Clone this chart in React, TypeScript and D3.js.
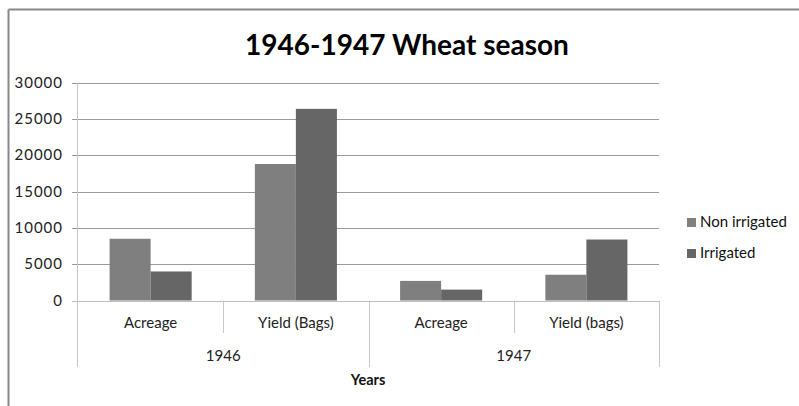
import React from "react";
import * as d3 from "d3";

const categories = ["Acreage", "Yield (Bags)", "Acreage", "Yield (bags)"];
const years = ["1946", "1947"];
const series = ["Non irrigated", "Irrigated"];
const nonIrrigated = [8500, 18800, 2700, 3550];
const irrigated = [4000, 26400, 1500, 8400];
const yTicks = [0, 5000, 10000, 15000, 20000, 25000, 30000];
const colors = ["#7f7f7f", "#666666"];

const W = 799;
const H = 406;
const FONT = "Lato, 'Open Sans', sans-serif";

export default function App() {
  const left = 78;
  const right = 659;
  const top = 82.7;
  const bottom = 300.5;
  const x = d3.scaleBand<number>().domain(d3.range(categories.length)).range([left, right]).padding(0);
  const xi = d3.scaleBand<string>().domain(series).range([0, x.bandwidth()]).paddingInner(0).paddingOuter(0.77);
  const y = d3.scaleLinear().domain([0, 30000]).range([bottom, top]);
  const values = [nonIrrigated, irrigated];
  const yearScale = d3.scaleBand<string>().domain(years).range([left, right]);

  return (
    <svg width={W} height={H} style={{ position: "absolute", left: 0, top: 0 }}>
      <rect x={0} y={0} width={W} height={H} fill="#fff" />
      <line x1={8.5} y1={9.5} x2={W} y2={9.5} stroke="#888" strokeWidth={2} />
      <line x1={8.5} y1={9.5} x2={8.5} y2={H} stroke="#888" strokeWidth={2} />
      <text x={407} y={55} textAnchor="middle" fontFamily={FONT} fontWeight="bold" fontSize={28} fill="#000">
        1946-1947 Wheat season
      </text>
      {yTicks.map((t) => (
        <g key={t}>
          {t > 0 && (
            <line x1={left - 6} x2={right} y1={Math.round(y(t)) + 0.5} y2={Math.round(y(t)) + 0.5} stroke="#9a9a9a" strokeWidth={1} />
          )}
          <text x={63} y={y(t) + 5} textAnchor="end" fontFamily={FONT} fontSize={15} letterSpacing={1} fill="#222">
            {t}
          </text>
        </g>
      ))}
      {series.map((s, si) =>
        categories.map((c, ci) => (
          <rect
            key={s + ci}
            x={(x(ci) as number) + (xi(s) as number)}
            y={y(values[si][ci])}
            width={xi.bandwidth()}
            height={bottom - y(values[si][ci])}
            fill={colors[si]}
          />
        ))
      )}
      <line x1={left - 6} x2={right} y1={Math.round(bottom) + 0.5} y2={Math.round(bottom) + 0.5} stroke="#bdbdbd" />
      <line x1={left - 0.5} x2={left - 0.5} y1={top} y2={367} stroke="#c6c6c6" />
      {[1, 3].map((i) => (
        <line key={i} x1={Math.round(x(i) as number) + 0.5} x2={Math.round(x(i) as number) + 0.5} y1={bottom} y2={333} stroke="#c6c6c6" />
      ))}
      {[2, 4].map((i) => {
        const xx = i === 4 ? right : (x(i) as number);
        return <line key={i} x1={Math.round(xx) + 0.5} x2={Math.round(xx) + 0.5} y1={bottom} y2={367} stroke="#c6c6c6" />;
      })}
      {categories.map((c, ci) => (
        <text key={ci} x={(x(ci) as number) + x.bandwidth() / 2} y={328} textAnchor="middle" fontFamily={FONT} fontSize={15} fill="#222">
          {c}
        </text>
      ))}
      {years.map((yr) => (
        <text key={yr} x={(yearScale(yr) as number) + yearScale.bandwidth() / 2} y={361} textAnchor="middle" fontFamily={FONT} fontSize={15} fill="#222">
          {yr}
        </text>
      ))}
      <text x={368} y={385} textAnchor="middle" fontFamily={FONT} fontWeight="bold" fontSize={14.5} fill="#111">
        Years
      </text>
      {series.map((s, si) => (
        <g key={s}>
          <rect x={687} y={218 + si * 31} width={9} height={9} fill={colors[si]} />
          <text x={700} y={227 + si * 31} fontFamily={FONT} fontSize={15} fill="#111">
            {s}
          </text>
        </g>
      ))}
    </svg>
  );
}
